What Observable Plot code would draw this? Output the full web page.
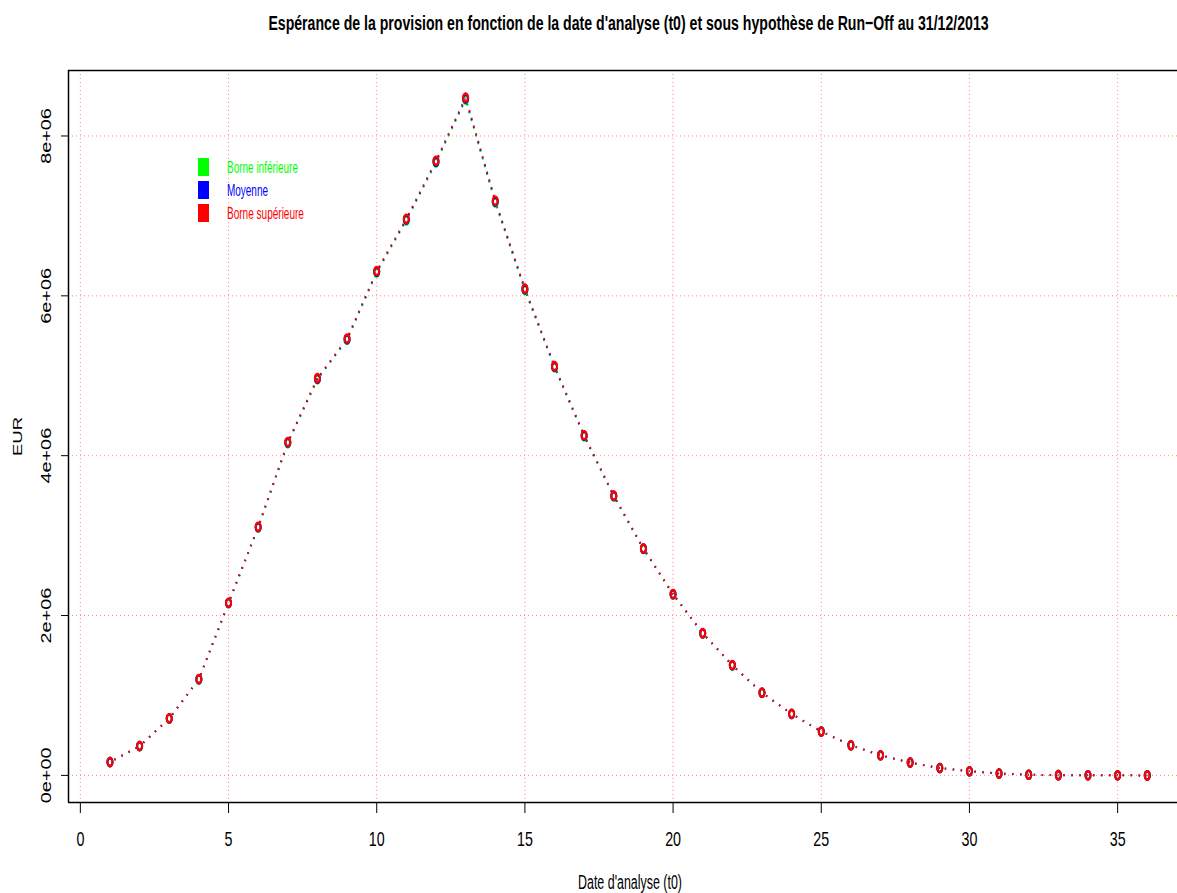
<!DOCTYPE html>
<html><head><meta charset="utf-8">
<script src="https://cdn.jsdelivr.net/npm/d3@7"></script>
<script src="https://cdn.jsdelivr.net/npm/@observablehq/plot@0.6"></script>
<style>html,body{margin:0;padding:0;background:#fff;overflow:hidden}</style>
</head><body><div id="chart"></div>
<script>
const dates = [1,2,3,4,5,6,7,8,9,10,11,12,13,14,15,16,17,18,19,20,21,22,23,24,25,26,27,28,29,30,31,32,33,34,35,36];
const borneInf = [166000,366000,711000,1201000,2153000,3100000,4157000,4955000,5449000,6291000,6944000,7667000,8455000,7168000,6072000,5105000,4242000,3490000,2832000,2263000,1775000,1376000,1032000,768000,548000,377000,251000,160000,92000,52000,24000,9000,3000,1000,500,100];
const moyenne = [166500,366500,712000,1203000,2156500,3105000,4163500,4962500,5457000,6300500,6954500,7678500,8467500,7179000,6081000,5112500,4248500,3495000,2836000,2266500,1777500,1378000,1033500,769000,549000,377500,251500,160000,92000,52000,24000,9000,3000,1000,500,100];
const borneSup = [167000,367000,713000,1205000,2160000,3110000,4170000,4970000,5465000,6310000,6965000,7690000,8480000,7190000,6090000,5120000,4255000,3500000,2840000,2270000,1780000,1380000,1035000,770000,550000,378000,252000,160000,92000,52000,24000,9000,3000,1000,500,100];
const seriesNames = ["Borne inférieure","Moyenne","Borne supérieure"];
const seriesColors = ["#00ff00","#0000ff","#ff0000"];
const xTicks = [0,5,10,15,20,25,30,35];
const yTicks = [0,2000000,4000000,6000000,8000000];
const yTickLabels = ["0e+00","2e+06","4e+06","6e+06","8e+06"];
const titleText = "Espérance de la provision en fonction de la date d'analyse (t0) et sous hypothèse de Run\u2212Off au 31/12/2013";
const xLabel = "Date d'analyse (t0)";
const yLabel = "EUR";

const series = [borneInf, moyenne, borneSup];
const rows = series.flatMap((vals, s) => vals.map((v, i) => ({t: dates[i], v, s: seriesNames[s]})));
// consecutive segments per series (the dotted pattern restarts on every segment, as in R type "b")
const segments = series.flatMap((vals, s) => vals.slice(1).map((v, i) => ({t1: dates[i], v1: vals[i], t2: dates[i + 1], v2: v, s: seriesNames[s]})));

const yMin = d3.min(rows, d => d.v), yMax = d3.max(rows, d => d.v), yPad = 0.04 * (yMax - yMin);
const xMin = d3.min(dates), xMax = d3.max(dates), xPad = 0.04 * (xMax - xMin);

function ellipsePath(ctx, a, b, ccw) {
  const k = 0.5523;
  if (!ccw) {
    ctx.moveTo(a, 0);
    ctx.bezierCurveTo(a, b * k, a * k, b, 0, b);
    ctx.bezierCurveTo(-a * k, b, -a, b * k, -a, 0);
    ctx.bezierCurveTo(-a, -b * k, -a * k, -b, 0, -b);
    ctx.bezierCurveTo(a * k, -b, a, -b * k, a, 0);
  } else {
    ctx.moveTo(a, 0);
    ctx.bezierCurveTo(a, -b * k, a * k, -b, 0, -b);
    ctx.bezierCurveTo(-a * k, -b, -a, -b * k, -a, 0);
    ctx.bezierCurveTo(-a, b * k, -a * k, b, 0, b);
    ctx.bezierCurveTo(a * k, b, a, b * k, a, 0);
  }
  ctx.closePath();
}
const ring = {
  draw(ctx) {
    ellipsePath(ctx, 3.5, 5.3, false);
    ellipsePath(ctx, 1.5, 2.7, true);
  }
};

const gridColor = "#ff8a8a";
const plot = Plot.plot({
  width: 1177, height: 893,
  marginLeft: 68, marginTop: 70, marginRight: 0, marginBottom: 91,
  style: {fontFamily: "'Liberation Sans', Arial, sans-serif", background: "#fff", overflow: "hidden"},
  x: {domain: [xMin - xPad, 37.02], axis: null},
  y: {domain: [yMin - yPad, yMax + yPad], axis: null},
  color: {domain: seriesNames, range: seriesColors},
  marks: [
    Plot.gridX({ticks: xTicks, stroke: gridColor, strokeOpacity: 1, strokeDasharray: "1,3", strokeWidth: 1}),
    Plot.gridY({ticks: yTicks, stroke: gridColor, strokeOpacity: 1, strokeDasharray: "1,3", strokeWidth: 1}),
    Plot.ruleX([xMin - xPad], {stroke: "black", strokeWidth: 1.5}),
    Plot.ruleY([yMin - yPad, yMax + yPad], {stroke: "black", strokeWidth: 1.5}),
    Plot.axisX({ticks: xTicks, tickSize: 11, tickPadding: 17.5, fontSize: 21, label: null, tickFormat: d => String(d)}),
    Plot.axisY({ticks: yTicks, tickSize: 7, tickFormat: () => "", label: null}),
    Plot.text(yTicks, {y: d => d, text: (d, i) => yTickLabels[i], frameAnchor: "left", dx: -22, rotate: -90, textAnchor: "middle", lineAnchor: "middle", fontSize: 14.4, fill: "black"}),
    Plot.link(segments, {x1: "t1", y1: "v1", x2: "t2", y2: "v2", stroke: "s", strokeWidth: 2, strokeDasharray: "1.4,6.6", strokeDashoffset: -5}),
    Plot.dot(rows, {x: "t", y: "v", fill: "s", stroke: "none", symbol: ring})
  ]
});

plot.querySelectorAll("text").forEach(t => {
  const tr = t.getAttribute("transform");
  if (!tr) return;
  t.setAttribute("transform", tr + (tr.includes("rotate") ? " scale(1.38,1)" : " scale(0.68,1)"));
});

document.getElementById("chart").appendChild(plot);

const svg = d3.select(plot);
// add a text and squeeze/stretch it along its length to the target width
function addText(x, y, rotate, anchor, size, weight, color, target, str) {
  const t = svg.append("text").attr("text-anchor", anchor).attr("font-size", size)
    .attr("font-weight", weight).attr("fill", color).text(str);
  const len = t.node().getComputedTextLength();
  const s = target / len;
  t.attr("transform", `translate(${x},${y})${rotate ? ` rotate(${rotate})` : ""} scale(${s},1)`);
  return t;
}
addText(628.5, 30, 0, "middle", 21, "bold", "black", 721, titleText);
addText(630, 889, 0, "middle", 21, "normal", "black", 104, xLabel);
addText(21.5, 436.5, -90, "middle", 12.6, "normal", "black", 39, yLabel);

const legendLens = [71, 41, 77];
seriesNames.forEach((name, i) => {
  svg.append("rect").attr("x", 198).attr("y", 158 + i * 23).attr("width", 11).attr("height", 18).attr("fill", seriesColors[i]);
  addText(227, 173 + i * 23, 0, "start", 16.3, "normal", seriesColors[i], legendLens[i], name);
});
</script>
</body></html>
